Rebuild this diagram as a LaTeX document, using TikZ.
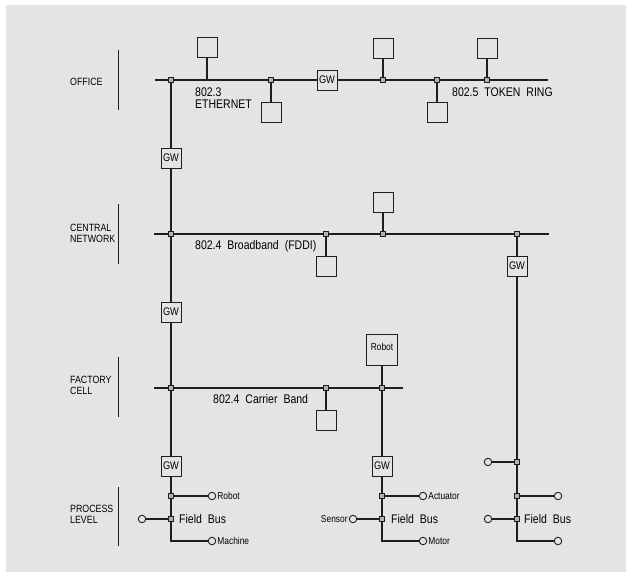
\documentclass[tikz,border=0pt]{standalone}
\usepackage{fontspec}
\setmainfont[FakeStretch=0.84]{Liberation Sans}
\definecolor{bgc}{HTML}{E4E4E4}
\definecolor{ln}{HTML}{1E1E1E}
\pgfdeclarelayer{paper}
\pgfdeclarelayer{back}
\pgfsetlayers{paper,back,main}
\newcommand\mylblfont{\fontsize{12.5}{12}\selectfont\spaceskip 6pt plus 1pt\relax}
\begin{document}
\begin{tikzpicture}[x=1pt,y=-1pt,
 wire/.style={line width=1.2pt, draw=ln},
 dev/.style={draw=ln, line width=0.9pt, fill=bgc, minimum width=20pt, minimum height=20pt, inner sep=0pt},
 gwbox/.style={dev, font=\fontsize{11}{12}\selectfont},
 jn/.style={draw=ln, fill=gray!60, line width=0.9pt, minimum size=4.5pt, inner sep=0pt, rectangle},
 term/.style={draw=ln, circle, fill=bgc, line width=0.9pt, minimum size=7.5pt, inner sep=0pt},
 lvl/.style={font=\fontsize{10.5}{11}\selectfont, align=left, anchor=west, inner sep=0pt},
 lbl/.style={font=\mylblfont, align=left, anchor=west, inner sep=0pt},
 small/.style={font=\fontsize{10}{11}\selectfont, inner sep=1pt},
 bar/.style={line width=1pt, draw=ln}
]
\useasboundingbox (0,0) rectangle (626,572);
\begin{pgfonlayer}{paper}
\fill[bgc] (6,5) rectangle (626,572);
\end{pgfonlayer}

% level labels and bars
\node[lvl] (lOffice) at (70,82) {OFFICE};
\node[lvl] (lCentral) at (70,233.5) {CENTRAL\\NETWORK};
\node[lvl] (lFactory) at (70,385.5) {FACTORY\\CELL};
\node[lvl] (lProcess) at (70,514.5) {PROCESS\\LEVEL};
\draw[bar] (118,50) -- (118,110);
\draw[bar] (118,204) -- (118,264);
\draw[bar] (118,357) -- (118,417);
\draw[bar] (118,487) -- (118,546);

% ---------- OFFICE ----------
\coordinate (oL) at (155,80);
\coordinate (oR) at (548,80);
\coordinate (c11) at (207,80);
\node[jn] (j11) at (171,80) {};
\node[dev] (d11) at (207,47) {};
\node[jn] (j12) at (271,80) {};
\node[dev] (d12) at (271,112) {};
\node[gwbox] (gw12) at (327,80) {GW};
\node[jn] (j13) at (383,80) {};
\node[dev] (d13) at (383,48) {};
\node[jn] (j14) at (437,80) {};
\node[dev] (d14) at (437,112) {};
\node[jn] (j15) at (487,80) {};
\node[dev] (d15) at (487,48) {};
\node[lbl] (tEth) at (195,98) {802.3\\ETHERNET};
\node[lbl] (tTok) at (452,92) {802.5 TOKEN RING};

\node[gwbox] (gw1) at (171,158) {GW};

% ---------- CENTRAL ----------
\coordinate (cL) at (154,234);
\coordinate (cR) at (549,234);
\node[jn] (j21) at (171,234) {};
\node[jn] (j22) at (326,234) {};
\node[dev] (d22) at (326,266) {};
\node[jn] (j23) at (383,234) {};
\node[dev] (d23) at (383,202) {};
\node[jn] (j24) at (517,234) {};
\node[gwbox] (gw24) at (517,266) {GW};
\node[lbl] (tFddi) at (195,246) {802.4 Broadband (FDDI)};

\node[gwbox] (gw2) at (171,312) {GW};

% ---------- FACTORY ----------
\coordinate (fL) at (154,388);
\coordinate (fR) at (403,388);
\node[jn] (j31) at (171,388) {};
\node[jn] (j32) at (326,388) {};
\node[dev] (d32) at (326,420) {};
\node[jn] (j33) at (382,388) {};
\node[dev, minimum width=31pt, minimum height=31pt, font=\fontsize{10}{11}\selectfont] (robot) at (382,349.5) {\raisebox{5pt}{Robot}};
\node[lbl] (tCar) at (213,399) {802.4 Carrier Band};

% ---------- PROCESS ----------
\node[gwbox] (gw3) at (171,466) {GW};
\node[gwbox] (gw4) at (382,466) {GW};

\node[jn] (j41) at (171,496) {};
\node[term] (t41) at (212,496) {};
\node[jn] (j42) at (171,519) {};
\node[term] (t42) at (142,519) {};
\coordinate (c43) at (171,541);
\node[term] (t43) at (212,541) {};
\node[small, anchor=west] (r41) at (t41.east) {Robot};
\node[small, anchor=west] (r43) at (t43.east) {Machine};
\node[lbl] (fb1) at (179,519) {Field Bus};

\node[jn] (j51) at (382,496) {};
\node[term] (t51) at (423,496) {};
\node[jn] (j52) at (382,519) {};
\node[term] (t52) at (353,519) {};
\coordinate (c53) at (382,541);
\node[term] (t53) at (423,541) {};
\node[small, anchor=west] (r51) at (t51.east) {Actuator};
\node[small, anchor=east] (r52) at (t52.west) {Sensor};
\node[small, anchor=west] (r53) at (t53.east) {Motor};
\node[lbl] (fb2) at (391,519) {Field Bus};

\node[jn] (j60) at (517,462) {};
\node[term] (t60) at (488,462) {};
\node[jn] (j61) at (517,496) {};
\node[term] (t61) at (558,496) {};
\node[jn] (j62) at (517,519) {};
\node[term] (t62) at (488,519) {};
\coordinate (c63) at (517,541);
\node[term] (t63) at (558,541) {};
\node[lbl] (fb3) at (524,519) {Field Bus};

% ---------- wires (behind nodes) ----------
\begin{pgfonlayer}{back}
\draw[wire] (oL) -- (oR);
\draw[wire] (d11) -- (c11);
\draw[wire] (d12) -- (j12.center);
\draw[wire] (d13) -- (j13.center);
\draw[wire] (d14) -- (j14.center);
\draw[wire] (d15) -- (j15.center);

\draw[wire] (cL) -- (cR);
\draw[wire] (d22) -- (j22.center);
\draw[wire] (d23) -- (j23.center);

\draw[wire] (fL) -- (fR);
\draw[wire] (d32) -- (j32.center);

% left trunk
\draw[wire] (j11.center) -- (gw1) -- (j21.center) -- (gw2) -- (j31.center) -- (gw3) -- (j41.center) -- (j42.center) -- (c43) -- (t43);
\draw[wire] (j41.center) -- (t41);
\draw[wire] (t42) -- (j42.center);
% middle trunk
\draw[wire] (robot) -- (j33.center) -- (gw4) -- (j51.center) -- (j52.center) -- (c53) -- (t53);
\draw[wire] (j51.center) -- (t51);
\draw[wire] (t52) -- (j52.center);
% right trunk
\draw[wire] (j24.center) -- (gw24) -- (j60.center) -- (j61.center) -- (j62.center) -- (c63) -- (t63);
\draw[wire] (t60) -- (j60.center);
\draw[wire] (j61.center) -- (t61);
\draw[wire] (t62) -- (j62.center);
\end{pgfonlayer}
\end{tikzpicture}
\end{document}
